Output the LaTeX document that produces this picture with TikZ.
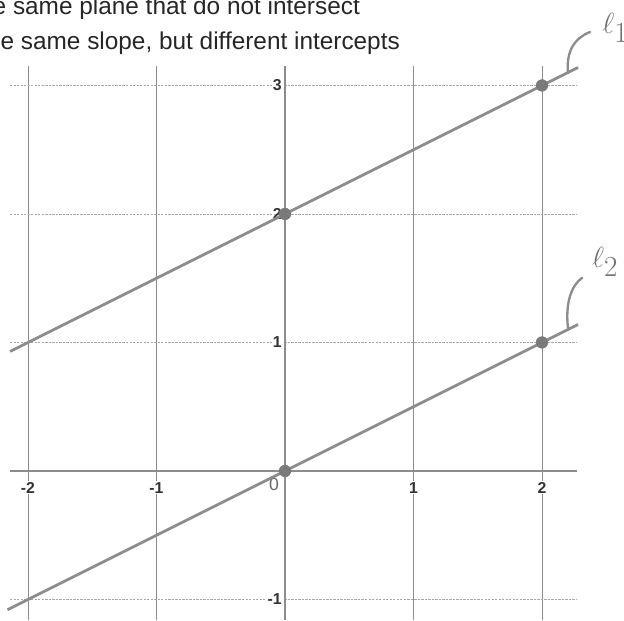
\documentclass[tikz,border=0pt]{standalone}
\usepackage{fontspec}
\setmainfont{Liberation Sans}
\begin{document}
\begin{tikzpicture}[x=3.855cm,y=3.855cm,
 gridv/.style={draw=black!45, line width=0.6pt},
 gridh/.style={draw=black!35, line width=0.6pt, dash pattern=on 2pt off 1pt},
 axis/.style={draw=black!45, line width=2.2pt},
 pline/.style={draw=black!45, line width=2.4pt},
 pt/.style={circle, fill=black!52, minimum size=0.36cm, inner sep=0pt},
 ticklbl/.style={font=\fontsize{13.5}{14}\selectfont\bfseries, text=black!80, inner sep=1pt, fill=white},
 head/.style={font=\fontsize{20.8}{24}\selectfont, text=black!85, anchor=base east, inner sep=0pt},
 hand/.style={draw=black!45, line width=2pt, line cap=round},
 handlbl/.style={text=black!55, font=\fontsize{34}{36}\selectfont, inner sep=0pt}
]
\useasboundingbox (-2.218,-1.160) rectangle (2.638,3.665);
% header text
\node[head] (t1) at (0.584,3.555) {e same plane that do not intersect};
\node[head] (t2) at (0.895,3.276) {e same slope, but different intercepts};
% grid
\foreach \x in {-2,-1,1,2} \draw[gridv] (\x,3.149) -- (\x,-1.16);
\foreach \y in {-1,1,2,3} \draw[gridh] (-2.14,\y) -- (2.27,\y);
% axes
\coordinate (xl) at (-2.14,0);
\coordinate (xr) at (2.27,0);
\coordinate (yt) at (0,3.149);
\coordinate (yb) at (0,-1.16);
\draw[axis] (xl) -- (xr);
\draw[axis] (yt) -- (yb);
% tick labels
\node[ticklbl] (tx-2) at (-2,-0.13) {-2};
\node[ticklbl] (tx-1) at (-1,-0.13) {-1};
\node[ticklbl] (tx1) at (1,-0.13) {1};
\node[ticklbl] (tx2) at (2,-0.13) {2};
\node[font=\fontsize{15}{16}\selectfont, text=black!60, inner sep=0pt] (t0) at (-0.085,-0.105) {0};
\node[ticklbl, anchor=east] (ty3) at (-0.015,3) {3};
\node[ticklbl, anchor=east, fill=none] (ty2) at (-0.015,2) {2};
\node[ticklbl, anchor=east] (ty1) at (-0.015,1) {1};
\node[ticklbl, anchor=east] (ty-1) at (-0.015,-1) {-1};
% lines
\coordinate (l1s) at (-2.14,0.93);
\coordinate (l1e) at (2.28,3.14);
\coordinate (l2s) at (-2.16,-1.08);
\coordinate (l2e) at (2.28,1.14);
\node[pt] (p00) at (0,0) {};
\node[pt] (p02) at (0,2) {};
\node[pt] (p21) at (2,1) {};
\node[pt] (p23) at (2,3) {};
\draw[pline] (l1s) -- (p02.center) -- (p23.center) -- (l1e);
\draw[pline] (l2s) -- (p00.center) -- (p21.center) -- (l2e);
\node[pt] at (p00) {};
\node[pt] at (p02) {};
\node[pt] at (p21) {};
\node[pt] at (p23) {};
% handwritten labels
\coordinate (h1a) at (2.202,3.097);
\coordinate (h1b) at (2.374,3.416);
\draw[hand] (h1a) .. controls (2.187,3.276) and (2.257,3.370) .. (h1b);
\node[handlbl] (L1) at (2.57,3.45) {$\ell_1$};
\coordinate (h2a) at (2.202,1.113);
\coordinate (h2b) at (2.311,1.502);
\draw[hand] (h2a) .. controls (2.179,1.315) and (2.233,1.447) .. (h2b);
\node[handlbl] (L2) at (2.49,1.626) {$\ell_2$};
\end{tikzpicture}
\end{document}
